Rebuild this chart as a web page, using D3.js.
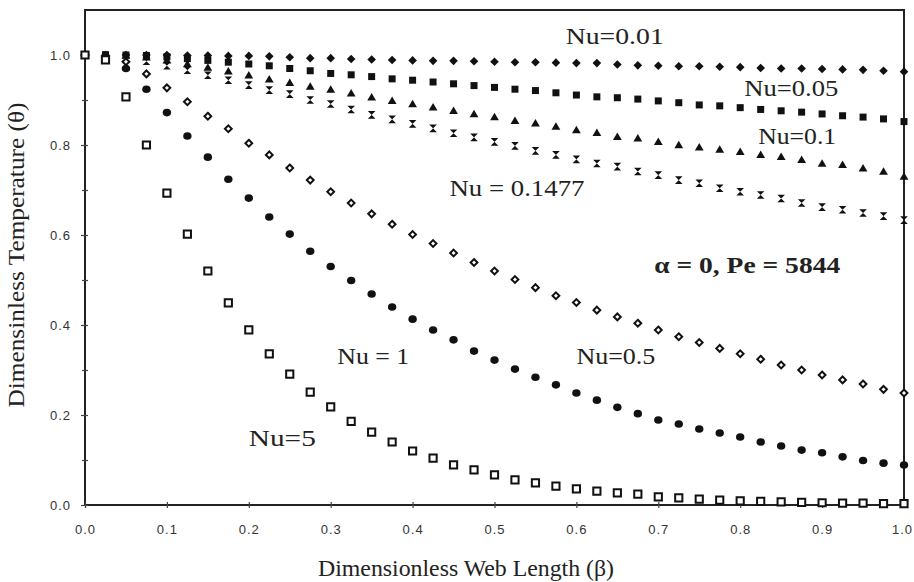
<!DOCTYPE html>
<html>
<head>
<meta charset="utf-8">
<title>Dimensionless temperature</title>
<script src="https://d3js.org/d3.v7.min.js"></script>
<style>
  body { margin: 0; background: #fff; }
  text { font-family: "Liberation Serif", "Times New Roman", serif; fill: #222; }
  .tick text { font-family: "Liberation Sans", Arial, sans-serif; font-size: 13px; letter-spacing: 1px; fill: #333; }
</style>
</head>
<body>
<div id="chart"></div>
<script>

// beta positions (dimensionless web length)
let beta = [0, 0.025, 0.05, 0.075, 0.1, 0.125, 0.15, 0.175, 0.2, 0.225, 0.25, 0.275, 0.3, 0.325, 0.35,
    0.375, 0.4, 0.425, 0.45, 0.475, 0.5, 0.525, 0.55, 0.575, 0.6, 0.625, 0.65, 0.675, 0.7, 0.725,
    0.75, 0.775, 0.8, 0.825, 0.85, 0.875, 0.9, 0.925, 0.95, 0.975, 1.0];

// theta values, one list per Nu
let nu001 = [1.000, 1.000, 1.000, 1.000, 1.000, 0.999, 0.999, 0.998, 0.998, 0.997, 0.995, 0.993, 0.993, 0.991, 0.990,
    0.989, 0.988, 0.987, 0.987, 0.986, 0.985, 0.984, 0.984, 0.983, 0.982, 0.982, 0.979, 0.977, 0.976, 0.975,
    0.975, 0.974, 0.973, 0.971, 0.970, 0.970, 0.969, 0.968, 0.967, 0.965, 0.963];
let nu005 = [1.000, 1.000, 1.000, 0.999, 0.996, 0.992, 0.988, 0.984, 0.980, 0.976, 0.970, 0.965, 0.959, 0.956, 0.952,
    0.947, 0.944, 0.940, 0.936, 0.932, 0.928, 0.924, 0.921, 0.916, 0.911, 0.907, 0.905, 0.902, 0.898, 0.894,
    0.889, 0.887, 0.883, 0.879, 0.876, 0.873, 0.869, 0.865, 0.862, 0.858, 0.852];
let nu01 = [1.000, 1.000, 0.999, 0.995, 0.988, 0.980, 0.972, 0.964, 0.955, 0.946, 0.938, 0.930, 0.923, 0.915, 0.906,
    0.898, 0.891, 0.884, 0.876, 0.869, 0.862, 0.854, 0.848, 0.841, 0.833, 0.827, 0.818, 0.815, 0.807, 0.800,
    0.795, 0.790, 0.785, 0.778, 0.774, 0.767, 0.759, 0.756, 0.748, 0.741, 0.730];
let nu01477 = [1.000, 1.000, 0.994, 0.986, 0.976, 0.966, 0.955, 0.944, 0.933, 0.922, 0.913, 0.900, 0.891, 0.879, 0.867,
    0.857, 0.847, 0.837, 0.826, 0.817, 0.807, 0.798, 0.787, 0.778, 0.768, 0.759, 0.752, 0.741, 0.733, 0.722,
    0.715, 0.704, 0.696, 0.689, 0.681, 0.671, 0.662, 0.656, 0.649, 0.642, 0.633];
let nu05 = [1.000, 0.998, 0.985, 0.958, 0.927, 0.896, 0.864, 0.836, 0.804, 0.778, 0.749, 0.722, 0.696, 0.671, 0.647,
    0.624, 0.601, 0.581, 0.560, 0.539, 0.520, 0.501, 0.483, 0.465, 0.450, 0.433, 0.418, 0.404, 0.389, 0.374,
    0.361, 0.348, 0.336, 0.324, 0.311, 0.300, 0.289, 0.278, 0.269, 0.257, 0.249];
let nu1 = [1.000, 0.995, 0.970, 0.924, 0.872, 0.820, 0.773, 0.724, 0.682, 0.640, 0.602, 0.564, 0.530, 0.499, 0.469,
    0.440, 0.413, 0.389, 0.367, 0.342, 0.322, 0.302, 0.284, 0.267, 0.249, 0.233, 0.217, 0.203, 0.189, 0.180,
    0.169, 0.160, 0.151, 0.140, 0.131, 0.122, 0.116, 0.107, 0.099, 0.093, 0.089];
let nu5 = [1.000, 0.989, 0.907, 0.800, 0.693, 0.602, 0.520, 0.449, 0.389, 0.336, 0.291, 0.251, 0.218, 0.186, 0.162,
    0.140, 0.120, 0.104, 0.089, 0.078, 0.067, 0.056, 0.049, 0.042, 0.036, 0.031, 0.027, 0.024, 0.018, 0.016,
    0.013, 0.011, 0.009, 0.008, 0.007, 0.006, 0.005, 0.004, 0.004, 0.003, 0.003];

let xTicks = [0, 0.1, 0.2, 0.3, 0.4, 0.5, 0.6, 0.7, 0.8, 0.9, 1.0];
let yTicks = [0, 0.2, 0.4, 0.6, 0.8, 1.0];
let yMinor = [0.1, 0.3, 0.5, 0.7, 0.9];

let xTitle = "Dimensionless Web Length (\u03b2)";
let yTitle = "Dimensinless Temperature (\u03b8)";

// marker shape per series
let series = [
    {values: nu001, shape: "M0,-4.3L4.3,0L0,4.3L-4.3,0Z", fill: "#111", stroke: "none"},
    {values: nu005, shape: "M-3.5,-3.5h7v7h-7Z", fill: "#111", stroke: "none"},
    {values: nu01, shape: "M0,-4.3L4.4,3.2L-4.4,3.2Z", fill: "#111", stroke: "none"},
    {values: nu01477, shape: "M-3.8,-3.8H3.8L-3.8,3.8H3.8Z", fill: "#111", stroke: "none"},
    {values: nu05, shape: "M0,-3.4L3.4,0L0,3.4L-3.4,0Z", fill: "#fff", stroke: "#111"},
    {values: nu1, shape: "circle", fill: "#111", stroke: "none"},
    {values: nu5, shape: "M-3.6,-3.6h7.2v7.2h-7.2Z", fill: "#fff", stroke: "#111"}
];

// curve labels, placed at data coordinates
let labels = [
    {text: "Nu=0.01", b: 0.587, t: 1.024, len: 98},
    {text: "Nu=0.05", b: 0.805, t: 0.909, len: 94},
    {text: "Nu=0.1", b: 0.822, t: 0.802, len: 78},
    {text: "Nu = 0.1477", b: 0.445, t: 0.687, len: 135},
    {text: "Nu=0.5", b: 0.6, t: 0.313, len: 79},
    {text: "Nu = 1", b: 0.308, t: 0.313, len: 72},
    {text: "Nu=5", b: 0.2, t: 0.131, len: 67}
];
let note = "\u03b1 = 0, Pe = 5844";

let width = 914, height = 582;
let margin = {top: 10, right: 9, bottom: 77, left: 85};
let w = width - margin.left - margin.right;
let h = height - margin.top - margin.bottom;

let svg = d3.select("#chart")
    .append("svg")
    .attr("width", width)
    .attr("height", height);

let g = svg.append("g")
    .attr("transform", "translate(" + margin.left + "," + margin.top + ")");

let xScale = d3.scaleLinear().domain([0, 1]).range([0, w - 1]);
let yScale = d3.scaleLinear().domain([0, 1.1]).range([h, 0]);

// frame
g.append("rect")
    .attr("x", 0).attr("y", 0)
    .attr("width", w - 1).attr("height", h)
    .attr("fill", "none")
    .attr("stroke", "#222")
    .attr("stroke-width", 2);

// x axis: ticks crossing the bottom line
let xAxis = g.append("g")
    .attr("transform", "translate(0," + h + ")")
    .call(d3.axisBottom(xScale).tickValues(xTicks).tickSize(3).tickPadding(17).tickFormat(d3.format(".1f")));
// last label sits at the page edge, pull it in a little
xAxis.selectAll(".tick text").filter(function(d) { return d === 1; }).attr("dx", "-2");
g.append("g")
    .attr("transform", "translate(0," + h + ")")
    .call(d3.axisBottom(xScale).tickValues(xTicks).tickSize(-3).tickFormat(""));

g.append("g")
    .call(d3.axisLeft(yScale).tickValues(yTicks).tickSize(4).tickPadding(10).tickFormat(d3.format(".1f")));
g.append("g")
    .call(d3.axisLeft(yScale).tickValues(yTicks.concat(yMinor)).tickSize(-3).tickFormat(""));
g.append("g")
    .call(d3.axisLeft(yScale).tickValues(yMinor).tickSize(3).tickFormat(""));

g.selectAll(".domain").remove();
g.selectAll(".tick line").attr("stroke", "#444").attr("stroke-width", 1.2);

// markers
series.forEach(function(s) {
    let pts = g.append("g").selectAll("g")
        .data(s.values)
        .enter()
        .append("g")
        .attr("transform", function(d, i) {
            return "translate(" + xScale(beta[i]) + "," + yScale(d) + ")";
        });
    if (s.shape === "circle") {
        pts.append("ellipse").attr("rx", 4.2).attr("ry", 3.8).attr("fill", s.fill);
    } else {
        pts.append("path")
            .attr("d", s.shape)
            .attr("fill", s.fill)
            .attr("stroke", s.stroke)
            .attr("stroke-width", 2);
    }
});

// curve labels
g.selectAll(".lbl")
    .data(labels)
    .enter()
    .append("text")
    .attr("class", "lbl")
    .attr("x", function(d) { return xScale(d.b); })
    .attr("y", function(d) { return yScale(d.t); })
    .attr("font-size", "23px")
    .attr("textLength", function(d) { return d.len; })
    .attr("lengthAdjust", "spacingAndGlyphs")
    .text(function(d) { return d.text; });

g.append("text")
    .attr("x", xScale(0.695))
    .attr("y", yScale(0.516))
    .attr("font-size", "23px")
    .attr("font-weight", "bold")
    .attr("textLength", 186)
    .attr("lengthAdjust", "spacingAndGlyphs")
    .text(note);

// axis titles
svg.append("text")
    .attr("x", 466)
    .attr("y", 576)
    .attr("text-anchor", "middle")
    .attr("font-size", "23px")
    .attr("textLength", 296)
    .attr("lengthAdjust", "spacingAndGlyphs")
    .text(xTitle);

svg.append("text")
    .attr("transform", "translate(24,255) rotate(-90)")
    .attr("text-anchor", "middle")
    .attr("font-size", "23px")
    .attr("textLength", 305)
    .attr("lengthAdjust", "spacingAndGlyphs")
    .text(yTitle);

</script>
</body>
</html>
